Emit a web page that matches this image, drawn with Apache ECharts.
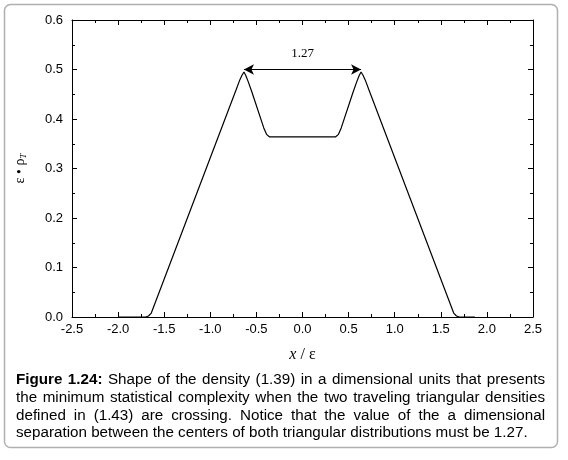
<!DOCTYPE html>
<html>
<head>
<meta charset="utf-8">
<script src="https://cdn.jsdelivr.net/npm/echarts@6/dist/echarts.min.js"></script>
<style>
html,body{margin:0;padding:0;background:#fff;}
#chart{width:568px;height:460px;}
</style>
</head>
<body>
<div id="chart"></div>
<script>
// ---- data ----
const xValues = [-2.0, -1.70, -1.67, -1.64, -0.72, -0.68, -0.655, -0.635, -0.615, -0.59, -0.55, -0.42, -0.39, -0.36, 0.36, 0.39, 0.42, 0.55, 0.59, 0.615, 0.635, 0.655, 0.68, 0.72, 1.64, 1.67, 1.70, 1.87];
const yValues = [0.0, 0.0, 0.002, 0.008, 0.459, 0.479, 0.489, 0.495, 0.488, 0.476, 0.455, 0.382, 0.369, 0.364, 0.364, 0.369, 0.382, 0.455, 0.476, 0.488, 0.495, 0.489, 0.479, 0.459, 0.008, 0.002, 0.0, 0.0];
const arrowFrom = [-0.635, 0.5];
const arrowTo = [0.635, 0.5];
const arrowLabel = '1.27';
const xTicks = { min: -2.5, max: 2.5, interval: 0.5 };
const yTicks = { min: 0.0, max: 0.6, interval: 0.1 };
const captionLines = [
  'Figure 1.24:  Shape of the density (1.39) in a dimensional units that presents',
  'the minimum statistical complexity when the two traveling triangular densities',
  'defined in (1.43) are crossing. Notice that the value of the a dimensional',
  'separation between the centers of both triangular distributions must be 1.27.'
];
const boldWordCount = 2;

const curve = xValues.map((x, i) => [x, yValues[i]]);

// ---- caption layout (justified) ----
const capFont = '"Liberation Sans", Arial, sans-serif';
const capSize = 15.2;
const capLeft = 16, capRight = 545, capTop = 380, capLineH = 17.7;
const mc = document.createElement('canvas').getContext('2d');
function measure(t, bold) {
  mc.font = (bold ? 'bold ' : '') + capSize + 'px ' + capFont;
  return mc.measureText(t).width;
}
const captionGraphics = [];
captionLines.forEach((line, li) => {
  const words = line.split(/\s+/);
  const bolds = words.map((w, wi) => li === 0 && wi < boldWordCount);
  const widths = words.map((w, wi) => measure(w, bolds[wi]));
  const total = widths.reduce((a, b) => a + b, 0);
  const last = li === captionLines.length - 1;
  const gap = last ? measure(' ', false) : (capRight - capLeft - total) / (words.length - 1);
  let x = capLeft;
  words.forEach((w, wi) => {
    captionGraphics.push({
      type: 'text', silent: true,
      style: {
        x: x, y: capTop + li * capLineH, text: w,
        font: (bolds[wi] ? 'bold ' : '') + capSize + 'px ' + capFont,
        fill: '#000', verticalAlign: 'middle', align: 'left'
      }
    });
    x += widths[wi] + gap;
  });
});

const tickLabelStyle = { color: '#000', fontSize: 13, fontFamily: '"Liberation Sans", Arial, sans-serif' };
const axisLineStyle = { show: true, onZero: false, lineStyle: { color: '#000', width: 1 } };
const tickStyle = { show: true, inside: true, length: 5, lineStyle: { color: '#000' } };
const minorStyle = { show: true, splitNumber: 2, length: 3, lineStyle: { color: '#000' } };

const chart = echarts.init(document.getElementById('chart'), null, { renderer: 'canvas' });
chart.setOption({
  animation: false,
  backgroundColor: '#fff',
  grid: { left: 72, right: 35, top: 20, bottom: 143 },
  xAxis: [{
    type: 'value', min: xTicks.min, max: xTicks.max, interval: xTicks.interval,
    axisLine: axisLineStyle, axisTick: tickStyle, minorTick: minorStyle,
    axisLabel: Object.assign({ margin: 6, formatter: v => v.toFixed(1) }, tickLabelStyle),
    splitLine: { show: false },
    name: '{i|x} / ε', nameLocation: 'middle', nameGap: 30,
    nameTextStyle: { fontFamily: '"Liberation Serif", "Times New Roman", serif', fontSize: 16, color: '#000',
      rich: { i: { fontStyle: 'italic', fontFamily: '"Liberation Serif", serif', fontSize: 16, color: '#000' } } }
  }, {
    type: 'value', position: 'top', min: xTicks.min, max: xTicks.max, interval: xTicks.interval,
    axisLine: axisLineStyle, axisTick: tickStyle, minorTick: minorStyle,
    axisLabel: { show: false }, splitLine: { show: false }
  }],
  yAxis: [{
    type: 'value', min: yTicks.min, max: yTicks.max, interval: yTicks.interval,
    axisLine: axisLineStyle, axisTick: tickStyle, minorTick: minorStyle,
    axisLabel: Object.assign({ margin: 9, formatter: v => v.toFixed(1) }, tickLabelStyle),
    splitLine: { show: false },
    name: '{a|ε • ρ}{b|T}', nameLocation: 'middle', nameGap: 43, nameRotate: 90,
    nameTextStyle: {
      color: '#000',
      rich: {
        a: { fontFamily: '"Liberation Serif", serif', fontSize: 14, color: '#000', lineHeight: 18, verticalAlign: 'middle' },
        b: { fontFamily: '"Liberation Serif", serif', fontSize: 9, fontStyle: 'italic', color: '#000', padding: [8, 0, 0, 0], lineHeight: 18 }
      }
    }
  }, {
    type: 'value', position: 'right', min: yTicks.min, max: yTicks.max, interval: yTicks.interval,
    axisLine: axisLineStyle, axisTick: tickStyle, minorTick: minorStyle,
    axisLabel: { show: false }, splitLine: { show: false }
  }],
  series: [{
    type: 'line', data: curve, showSymbol: false, smooth: false,
    lineStyle: { color: '#000', width: 1.2 },
    markLine: {
      silent: true, animation: false,
      symbol: ['arrow', 'arrow'], symbolSize: [8, 10],
      lineStyle: { color: '#000', width: 1.2, type: 'solid' },
      label: { show: true, position: 'middle', formatter: arrowLabel, distance: 9,
        fontFamily: '"Liberation Serif", serif', fontSize: 13, color: '#000' },
      data: [[{ coord: arrowFrom }, { coord: arrowTo }]]
    }
  }],
  graphic: [{
    type: 'rect', silent: true, z: -1,
    shape: { x: 4.5, y: 4.5, width: 553, height: 443, r: 6 },
    style: { fill: 'none', stroke: '#b0b0b0', lineWidth: 1.5 }
  }].concat(captionGraphics)
});
</script>
</body>
</html>
